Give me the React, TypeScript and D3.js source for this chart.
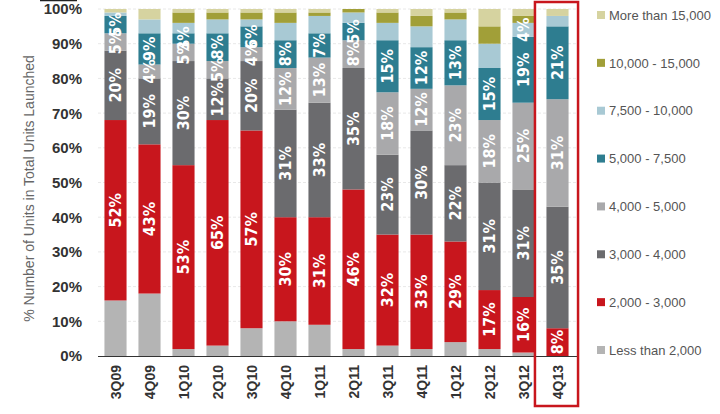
import React from 'react';
import * as d3 from 'd3';

const quarters = ['3Q09', '4Q09', '1Q10', '2Q10', '3Q10', '4Q10', '1Q11', '2Q11', '3Q11', '4Q11', '1Q12', '2Q12', '3Q12', '4Q13'];

// share of units launched per price band (%), bottom to top
const lessThan2000 = [16, 18, 2, 3, 8, 10, 9, 2, 3, 2, 4, 2, 1, 0];
const from2000to3000 = [52, 43, 53, 65, 57, 30, 31, 46, 32, 33, 29, 17, 16, 8];
const from3000to4000 = [20, 19, 30, 12, 20, 31, 33, 35, 23, 30, 22, 31, 31, 35];
const from4000to5000 = [5, 4, 5, 5, 4, 12, 13, 8, 18, 12, 23, 18, 25, 31];
const from5000to7500 = [5, 9, 3, 8, 6, 8, 7, 5, 15, 12, 13, 15, 19, 21];
const from7500to10000 = [1, 4, 3, 4, 2, 5, 5, 3, 5, 6, 6, 7, 4, 3];
const from10000to15000 = [0, 0, 3, 2, 2, 3, 1, 1, 3, 3, 2, 5, 2, 0];
const moreThan15000 = [1, 3, 1, 1, 1, 1, 1, 0, 1, 2, 1, 5, 2, 2];

const seriesNames = ['Less than 2,000', '2,000 - 3,000', '3,000 - 4,000', '4,000 - 5,000', '5,000 - 7,500', '7,500 - 10,000', '10,000 - 15,000', 'More than 15,000'];
const seriesValues = [lessThan2000, from2000to3000, from3000to4000, from4000to5000, from5000to7500, from7500to10000, from10000to15000, moreThan15000];
const seriesColors = ['#b4b4b4', '#c8161d', '#6b6b6e', '#a9a9ab', '#2e7d90', '#a8c9d4', '#a19f38', '#d6d3a0'];

// bands that carry a value label
const labelledSeries = [1, 2, 3, 4];
const extraLabels = [{ quarter: '3Q12', series: 5 }];
const highlightQuarter = '4Q13';

const yTicks = [0, 10, 20, 30, 40, 50, 60, 70, 80, 90, 100];

export default function App() {
  const width = 720;
  const height = 414;

  const x = d3.scaleBand<string>()
    .domain(quarters)
    .range([98.5, 574.5])
    .paddingInner(0.35)
    .paddingOuter(0.175);

  const y = d3.scaleLinear().domain([0, 100]).range([356, 9]);

  const rows = quarters.map((q, i) => {
    const r: any = { quarter: q };
    seriesNames.forEach((s, k) => { r[s] = seriesValues[k][i]; });
    return r;
  });
  const stacked = d3.stack<any>().keys(seriesNames)(rows);

  const legendY = d3.scalePoint<string>()
    .domain([...seriesNames].reverse())
    .range([15, 350]);

  const narrow = '"Liberation Sans Narrow", "DejaVu Sans Condensed", Arial, sans-serif';
  const sans = '"Liberation Sans", Arial, sans-serif';

  const hx = x(highlightQuarter)!;
  const bw = x.bandwidth();

  return (
    <svg width={width} height={height} style={{ position: 'absolute', left: 0, top: 0, background: '#fff' }}>
      {/* gridlines */}
      {yTicks.slice(1).map(t => (
        <line key={t} x1={98} x2={577} y1={y(t)} y2={y(t)} stroke="#e8e8e8" strokeWidth={1} strokeDasharray="3,2" />
      ))}

      {/* y tick labels */}
      {yTicks.map(t => (
        <text key={t} x={82} y={y(t)} dy="0.36em" textAnchor="end" fontFamily={sans} fontWeight="bold" fontSize={15} fill="#333">
          {t}%
        </text>
      ))}
      <line x1={40} x2={77} y1={0.5} y2={0.5} stroke="#222" strokeWidth={1.5} />

      {/* y title */}
      <text transform={`translate(34, ${(y(0) + y(100)) / 2 + 6}) rotate(-90)`} textAnchor="middle" fontFamily={sans} fontSize={14} fill="#666">
        % Number of Units in Total Units Launched
      </text>

      {/* bars */}
      {stacked.map((layer, k) => (
        <g key={layer.key} fill={seriesColors[k]}>
          {layer.map((d, i) => (
            <rect key={quarters[i]} x={x(quarters[i])} width={bw} y={y(d[1])} height={Math.max(0, y(d[0]) - y(d[1]))} />
          ))}
        </g>
      ))}

      {/* value labels */}
      {stacked.map((layer, k) => layer.map((d, i) => {
        const v = seriesValues[k][i];
        const isExtra = extraLabels.some(e => e.quarter === quarters[i] && e.series === k);
        if (!v || (!labelledSeries.includes(k) && !isExtra)) return null;
        const cx = x(quarters[i])! + bw / 2;
        const cy = y((d[0] + d[1]) / 2);
        return (
          <text key={`${k}-${i}`} transform={`translate(${cx}, ${cy}) rotate(-90)`} textAnchor="middle" dy="0.36em"
            fontFamily={narrow} fontWeight="bold" fontSize={16} fill="#fff">
            {v}%
          </text>
        );
      }))}

      {/* x axis */}
      <line x1={98} x2={577} y1={y(0) + 0.5} y2={y(0) + 0.5} stroke="#333" strokeWidth={1.2} />
      {quarters.map(q => (
        <text key={q} transform={`translate(${x(q)! + bw / 2}, 365) rotate(-90)`} textAnchor="end" dy="0.36em"
          fontFamily={sans} fontWeight="bold" fontSize={14} fill="#333">
          {q}
        </text>
      ))}

      {/* highlight box */}
      <rect x={hx - 11.5} y={2} width={bw + 21} height={404} fill="none" stroke="#c8161d" strokeWidth={2.5} />

      {/* legend */}
      {seriesNames.map((s, k) => (
        <g key={s} transform={`translate(597, ${legendY(s)})`}>
          <rect x={0} y={-4} width={8} height={8} fill={seriesColors[k]} />
          <text x={12} dy="0.36em" fontFamily={sans} fontSize={13} fill="#555">{s}</text>
        </g>
      ))}
    </svg>
  );
}
